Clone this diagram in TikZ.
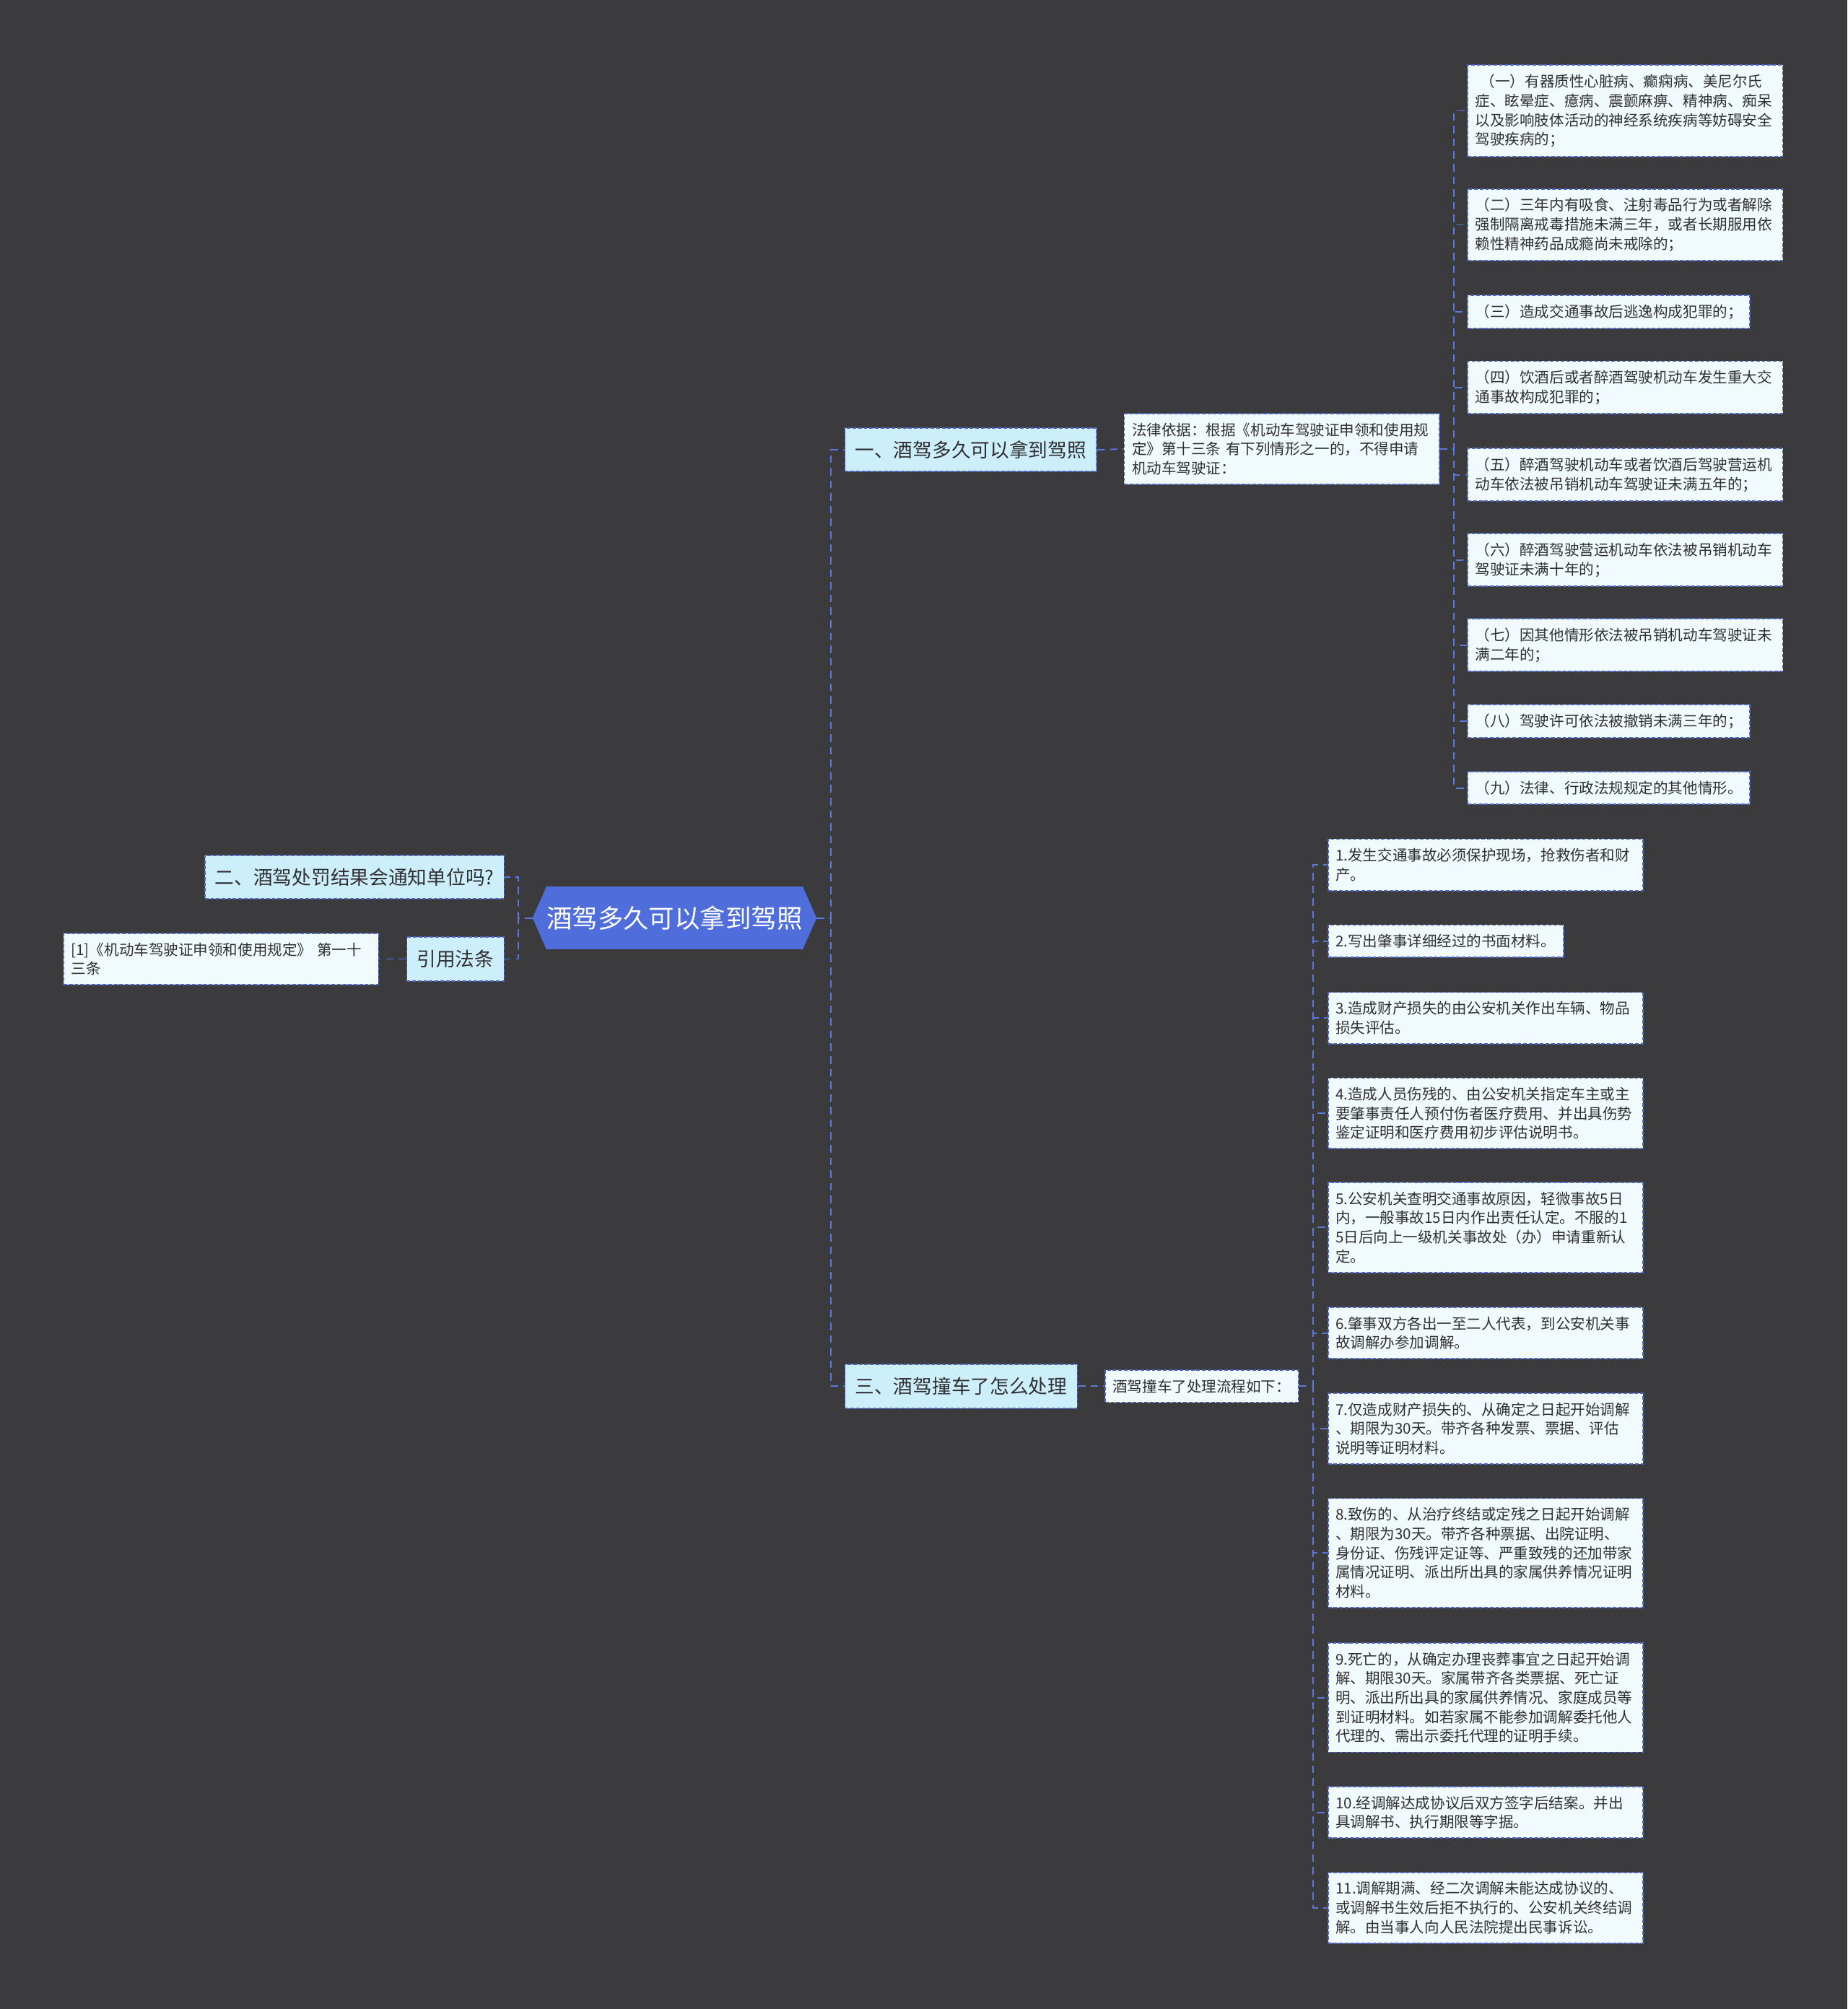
\documentclass[tikz,border=0pt]{standalone}
\usepackage{fontspec}
\setmainfont{Noto Sans CJK SC}
\usepackage{tikz}
\usetikzlibrary{positioning,calc}
\definecolor{canvasgray}{HTML}{3B3A3C}
\definecolor{rootblue}{HTML}{4F6EDB}
\definecolor{topicfill}{HTML}{CDEFFC}
\definecolor{leaffill}{HTML}{F1FAFD}
\definecolor{boxedge}{HTML}{5066C4}
\definecolor{linkblue}{HTML}{5A78DE}
\definecolor{inkgray}{HTML}{303030}
\tikzset{
  rootbox/.style={fill=rootblue,text=white,inner sep=0pt,minimum width=101.5pt,
    minimum height=24.7pt,font=\fontsize{10.1pt}{12pt}\selectfont},
  topicbox/.style={draw=boxedge,fill=topicfill,dash pattern=on 1.4pt off 0.8pt,line width=0.5pt,
    text=inkgray,inner xsep=4pt,inner ysep=0pt,minimum height=17.2pt,font=\fontsize{7.6pt}{9pt}\selectfont},
  leafbox/.style={draw=boxedge,fill=leaffill,dash pattern=on 1.4pt off 0.8pt,line width=0.5pt,
    text=inkgray,align=left,inner xsep=3pt,inner ysep=3.6pt,font=\fontsize{5.85pt}{7.6pt}\selectfont},
  wideleaf/.style={leafbox,text width=118.2pt},
  branchline/.style={draw=linkblue,line width=0.55pt,dash pattern=on 3pt off 2pt}
}

\begin{document}
\begin{tikzpicture}[x=0.17753mm,y=-0.17753mm]
  \useasboundingbox (0,0) rectangle (1442,1568);
  \fill[canvasgray] (0,0) rectangle (1442,1568);

  \node[rootbox] (root) at (526.5,716.5) {酒驾多久可以拿到驾照};
  \coordinate (rootR) at ($(root.east)+(10,0)$);
  \coordinate (rootL) at ($(root.west)+(-10,0)$);
  \fill[rootblue] ($(root.north east)+(-1,0)$) -- (rootR) -- ($(root.south east)+(-1,0)$) -- cycle;
  \fill[rootblue] ($(root.north west)+(1,0)$) -- (rootL) -- ($(root.south west)+(1,0)$) -- cycle;

  \node[topicbox,anchor=west] (drive) at (659,351) {一、酒驾多久可以拿到驾照};
  \node[topicbox,anchor=east] (notice) at (394,684.5) {二、酒驾处罚结果会通知单位吗?};
  \node[topicbox,anchor=east] (cite) at (394,748.5) {引用法条};
  \node[topicbox,anchor=west] (crash) at (659,1082) {三、酒驾撞车了怎么处理};

  \node[wideleaf,anchor=west] (basis) at (877,350.5)
    {法律依据：根据《机动车驾驶证申领和使用规\\定》第十三条~有下列情形之一的，不得申请\\机动车驾驶证：};
  \node[wideleaf,anchor=east] (citedoc) at (296,748.5)
    {[1]《机动车驾驶证申领和使用规定》~第一十\\三条};
  \node[leafbox,anchor=west] (steps) at (862,1082) {酒驾撞车了处理流程如下：};

  \node[wideleaf,anchor=west] (cond1) at (1145,86.5)
    {\hspace*{0.35em}（一）有器质性心脏病、癫痫病、美尼尔氏\\症、眩晕症、癔病、震颤麻痹、精神病、痴呆\\以及影响肢体活动的神经系统疾病等妨碍安全\\驾驶疾病的；};
  \node[wideleaf,anchor=west] (cond2) at (1145,175.5)
    {（二）三年内有吸食、注射毒品行为或者解除\\强制隔离戒毒措施未满三年，或者长期服用依\\赖性精神药品成瘾尚未戒除的；};
  \node[leafbox,anchor=west] (cond3) at (1145,243.5) {（三）造成交通事故后逃逸构成犯罪的；};
  \node[wideleaf,anchor=west] (cond4) at (1145,302.5)
    {（四）饮酒后或者醉酒驾驶机动车发生重大交\\通事故构成犯罪的；};
  \node[wideleaf,anchor=west] (cond5) at (1145,370.5)
    {（五）醉酒驾驶机动车或者饮酒后驾驶营运机\\动车依法被吊销机动车驾驶证未满五年的；};
  \node[wideleaf,anchor=west] (cond6) at (1145,437)
    {（六）醉酒驾驶营运机动车依法被吊销机动车\\驾驶证未满十年的；};
  \node[wideleaf,anchor=west] (cond7) at (1145,503.5)
    {（七）因其他情形依法被吊销机动车驾驶证未\\满二年的；};
  \node[leafbox,anchor=west] (cond8) at (1145,563) {（八）驾驶许可依法被撤销未满三年的；};
  \node[leafbox,anchor=west] (cond9) at (1145,615) {（九）法律、行政法规规定的其他情形。};

  \node[wideleaf,anchor=west] (proc1) at (1036,675)
    {1.发生交通事故必须保护现场，抢救伤者和财\\产。};
  \node[leafbox,anchor=west] (proc2) at (1036,734.5) {2.写出肇事详细经过的书面材料。};
  \node[wideleaf,anchor=west] (proc3) at (1036,794.5)
    {3.造成财产损失的由公安机关作出车辆、物品\\损失评估。};
  \node[wideleaf,anchor=west] (proc4) at (1036,869)
    {4.造成人员伤残的、由公安机关指定车主或主\\要肇事责任人预付伤者医疗费用、并出具伤势\\鉴定证明和医疗费用初步评估说明书。};
  \node[wideleaf,anchor=west] (proc5) at (1036,958)
    {5.公安机关查明交通事故原因，轻微事故5日\\内，一般事故15日内作出责任认定。不服的1\\5日后向上一级机关事故处（办）申请重新认\\定。};
  \node[wideleaf,anchor=west] (proc6) at (1036,1040.5)
    {6.肇事双方各出一至二人代表，到公安机关事\\故调解办参加调解。};
  \node[wideleaf,anchor=west] (proc7) at (1036,1115)
    {7.仅造成财产损失的、从确定之日起开始调解\\、期限为30天。带齐各种发票、票据、评估\\说明等证明材料。};
  \node[wideleaf,anchor=west] (proc8) at (1036,1212)
    {8.致伤的、从治疗终结或定残之日起开始调解\\、期限为30天。带齐各种票据、出院证明、\\身份证、伤残评定证等、严重致残的还加带家\\属情况证明、派出所出具的家属供养情况证明\\材料。};
  \node[wideleaf,anchor=west] (proc9) at (1036,1325)
    {9.死亡的，从确定办理丧葬事宜之日起开始调\\解、期限30天。家属带齐各类票据、死亡证\\明、派出所出具的家属供养情况、家庭成员等\\到证明材料。如若家属不能参加调解委托他人\\代理的、需出示委托代理的证明手续。};
  \node[wideleaf,anchor=west] (proc10) at (1036,1414.5)
    {10.经调解达成协议后双方签字后结案。并出\\具调解书、执行期限等字据。};
  \node[wideleaf,anchor=west] (proc11) at (1036,1489)
    {11.调解期满、经二次调解未能达成协议的、\\或调解书生效后拒不执行的、公安机关终结调\\解。由当事人向人民法院提出民事诉讼。};

  \draw[branchline] (rootR) -- ++(11,0) |- (drive.west);
  \draw[branchline] (rootR) -- ++(11,0) |- (crash.west);
  \draw[branchline] (rootL) -- ++(-11,0) |- (notice.east);
  \draw[branchline] (rootL) -- ++(-11,0) |- (cite.east);
  \draw[branchline] (drive.east) -- (basis.west);
  \draw[branchline] (crash.east) -- (steps.west);
  \draw[branchline] (cite.west) -- (citedoc.east);
  \foreach \k in {1,...,9}
    \draw[branchline] (basis.east) -- ++(11,0) |- (cond\k.west);
  \foreach \k in {1,...,11}
    \draw[branchline] (steps.east) -- ++(11,0) |- (proc\k.west);
\end{tikzpicture}
\end{document}
